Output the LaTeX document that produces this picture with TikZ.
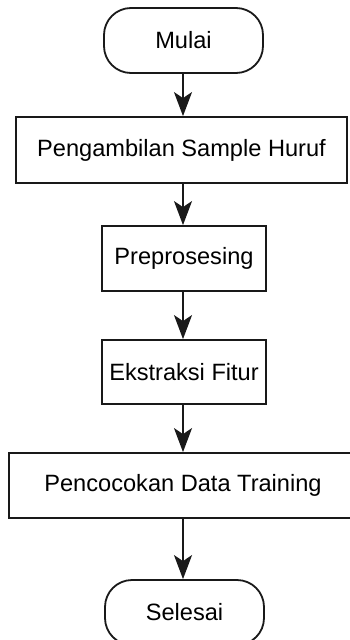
\documentclass[tikz,border=0pt]{standalone}
\usepackage{fontspec}
\setmainfont{Liberation Sans}
\usetikzlibrary{arrows.meta}
\begin{document}
\begin{tikzpicture}[x=1pt,y=-1pt,
  every node/.style={font=\fontsize{23.6}{28}\selectfont, inner sep=0pt, line width=1.8pt, draw=black!90},
  term/.style={rounded corners=27pt},
  proc/.style={},
  flow/.style={line width=1.8pt, draw=black!90, -{Stealth[length=24pt,width=18pt,inset=6pt]}}]
\useasboundingbox (0,0) rectangle (350,640);
\clip (0,0) rectangle (350,640);
\node[term, minimum width=159pt, minimum height=65pt] (start) at (183.5,40.5) {Mulai};
\node[proc, minimum width=331pt, minimum height=66pt] (b1) at (181.5,150) {Pengambilan Sample Huruf};
\node[proc, minimum width=164pt, minimum height=65pt] (b2) at (184,258.5) {Preprosesing};
\node[proc, minimum width=164pt, minimum height=64pt] (b3) at (184,372) {Ekstraksi Fitur};
\node[proc, minimum width=348pt, minimum height=65pt] (b4) at (183,485.5) {Pencocokan Data Training};
\node[term, minimum width=159pt, minimum height=65pt] (end) at (184.5,612.5) {Selesai};
\coordinate (ax) at (183,0);
\draw[flow] (start.south -| ax) -- (b1.north -| ax);
\draw[flow] (b1.south -| ax) -- (b2.north -| ax);
\draw[flow] (b2.south -| ax) -- (b3.north -| ax);
\draw[flow] (b3.south -| ax) -- (b4.north -| ax);
\draw[flow] (b4.south -| ax) -- (end.north -| ax);
\end{tikzpicture}
\end{document}
